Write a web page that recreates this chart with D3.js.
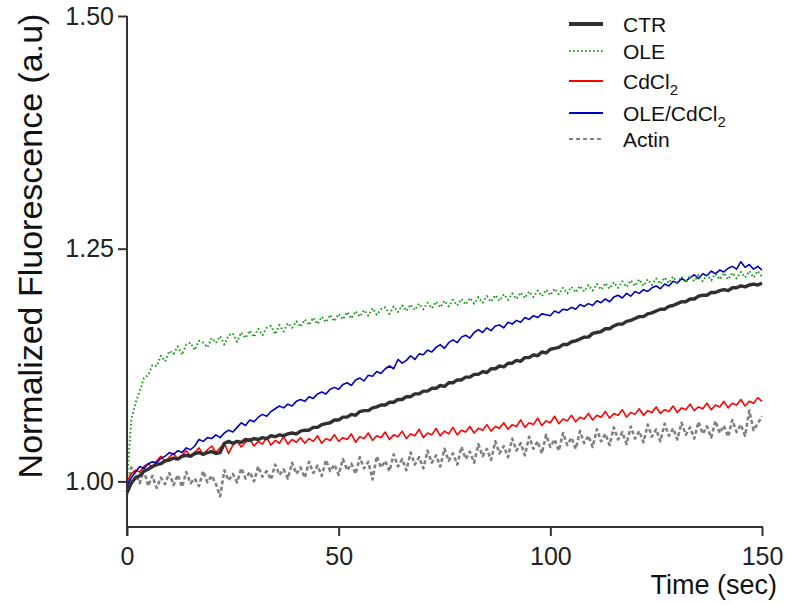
<!DOCTYPE html>
<html><head><meta charset="utf-8">
<script src="https://cdn.jsdelivr.net/npm/d3@7"></script>
<style>body{margin:0;background:#fff;} text{font-family:"Liberation Sans",Arial,sans-serif;}</style>
</head><body>
<svg id="chart" width="786" height="605"></svg>
<script>
// Sample times (seconds), one reading per second
const times = d3.range(0, 151, 1);
const xTicks = [0, 50, 100, 150];
const yTicks = [1.00, 1.25, 1.50];
const seriesNames = ["CTR", "OLE", "CdCl2", "OLE/CdCl2", "Actin"];

const ctr = [0.988,0.998,1.004,1.006,1.011,1.013,1.016,1.018,1.019,1.022,1.023,
1.025,1.024,1.027,1.028,1.027,1.030,1.031,1.029,1.031,1.032,
1.030,1.031,1.041,1.043,1.041,1.043,1.042,1.045,1.044,1.046,
1.045,1.047,1.046,1.049,1.048,1.050,1.049,1.051,1.052,1.051,
1.054,1.055,1.055,1.058,1.058,1.061,1.062,1.063,1.066,1.066,
1.069,1.069,1.072,1.071,1.075,1.076,1.076,1.079,1.080,1.082,
1.082,1.085,1.085,1.088,1.088,1.091,1.091,1.094,1.094,1.097,
1.097,1.100,1.100,1.103,1.102,1.106,1.106,1.109,1.109,1.112,
1.112,1.115,1.115,1.118,1.117,1.121,1.121,1.124,1.123,1.127,
1.127,1.130,1.129,1.133,1.133,1.136,1.135,1.139,1.138,1.142,
1.143,1.144,1.147,1.147,1.150,1.151,1.153,1.155,1.155,1.159,
1.160,1.161,1.164,1.164,1.167,1.169,1.169,1.172,1.173,1.175,
1.177,1.177,1.180,1.181,1.183,1.185,1.185,1.188,1.189,1.191,
1.193,1.193,1.196,1.196,1.199,1.200,1.200,1.203,1.203,1.205,
1.206,1.205,1.208,1.208,1.210,1.209,1.211,1.212,1.211,1.213];

const ole = [1.000,1.066,1.084,1.097,1.111,1.114,1.125,1.124,1.135,1.129,1.140,
1.137,1.145,1.136,1.147,1.149,1.141,1.151,1.149,1.144,1.154,
1.149,1.156,1.147,1.157,1.159,1.150,1.160,1.154,1.162,1.155,
1.164,1.157,1.165,1.167,1.158,1.168,1.161,1.170,1.165,1.172,
1.166,1.174,1.168,1.176,1.169,1.177,1.171,1.179,1.172,1.180,
1.174,1.182,1.175,1.183,1.177,1.184,1.178,1.186,1.179,1.185,
1.187,1.180,1.188,1.182,1.189,1.183,1.190,1.184,1.191,1.185,
1.192,1.186,1.193,1.187,1.194,1.188,1.195,1.189,1.196,1.190,
1.197,1.191,1.198,1.192,1.199,1.193,1.200,1.194,1.201,1.195,
1.202,1.196,1.203,1.197,1.204,1.198,1.205,1.199,1.206,1.200,
1.207,1.201,1.208,1.202,1.209,1.203,1.210,1.204,1.211,1.205,
1.212,1.206,1.213,1.207,1.214,1.208,1.215,1.209,1.216,1.210,
1.217,1.210,1.217,1.211,1.218,1.212,1.219,1.213,1.220,1.214,
1.220,1.214,1.221,1.215,1.222,1.215,1.222,1.216,1.223,1.217,
1.224,1.217,1.224,1.218,1.225,1.219,1.226,1.219,1.226,1.220];

const cdcl2 = [1.000,1.008,1.012,1.010,1.016,1.019,1.015,1.022,1.027,1.021,1.026,
1.030,1.024,1.028,1.033,1.027,1.031,1.036,1.029,1.034,1.038,
1.031,1.036,1.041,1.030,1.039,1.043,1.037,1.042,1.046,1.038,
1.043,1.040,1.047,1.039,1.044,1.041,1.048,1.040,1.045,1.042,
1.047,1.041,1.046,1.043,1.049,1.041,1.046,1.044,1.050,1.043,
1.047,1.045,1.051,1.042,1.048,1.046,1.052,1.044,1.049,1.047,
1.053,1.045,1.050,1.048,1.054,1.046,1.051,1.049,1.056,1.047,
1.052,1.050,1.057,1.049,1.054,1.051,1.058,1.050,1.055,1.053,
1.059,1.052,1.057,1.055,1.061,1.054,1.059,1.057,1.063,1.056,
1.061,1.059,1.066,1.058,1.063,1.061,1.068,1.060,1.065,1.063,
1.070,1.062,1.067,1.065,1.071,1.064,1.069,1.067,1.073,1.066,
1.071,1.069,1.075,1.068,1.073,1.071,1.077,1.069,1.074,1.072,
1.078,1.071,1.076,1.074,1.080,1.073,1.077,1.075,1.081,1.074,
1.079,1.077,1.083,1.076,1.080,1.078,1.084,1.077,1.082,1.080,
1.086,1.079,1.084,1.082,1.088,1.081,1.086,1.084,1.090,1.086];

const oleCdcl2 = [0.995,1.004,1.010,1.016,1.014,1.019,1.021,1.020,1.025,1.027,1.031,
1.029,1.033,1.031,1.036,1.034,1.038,1.045,1.043,1.047,1.046,
1.050,1.047,1.052,1.055,1.053,1.058,1.063,1.060,1.066,1.064,
1.069,1.072,1.070,1.075,1.078,1.081,1.079,1.083,1.081,1.086,
1.088,1.086,1.091,1.089,1.094,1.096,1.094,1.099,1.101,1.099,
1.104,1.106,1.103,1.109,1.111,1.108,1.114,1.113,1.118,1.116,
1.121,1.124,1.121,1.131,1.127,1.130,1.135,1.131,1.137,1.136,
1.141,1.139,1.144,1.147,1.143,1.149,1.152,1.149,1.155,1.157,
1.154,1.160,1.163,1.160,1.165,1.162,1.167,1.168,1.165,1.171,
1.169,1.173,1.171,1.176,1.174,1.178,1.176,1.180,1.179,1.178,
1.183,1.181,1.185,1.184,1.187,1.185,1.190,1.188,1.191,1.189,
1.194,1.192,1.196,1.193,1.198,1.200,1.197,1.202,1.199,1.204,
1.202,1.206,1.204,1.208,1.210,1.207,1.212,1.210,1.215,1.213,
1.218,1.215,1.219,1.222,1.218,1.223,1.221,1.226,1.223,1.227,
1.225,1.229,1.231,1.228,1.236,1.230,1.233,1.228,1.231,1.227];

const actin = [0.985,1.015,1.008,0.998,1.012,0.995,1.006,0.993,1.004,0.997,1.009,
0.996,1.007,0.994,1.010,0.998,1.003,0.995,1.011,0.999,1.006,
0.997,0.984,1.012,1.001,1.008,0.999,1.014,1.003,1.010,1.000,
1.016,1.005,1.011,1.002,1.018,1.007,1.013,1.003,1.020,1.008,
1.015,1.004,1.021,1.009,1.017,1.006,1.023,1.011,1.018,1.007,
1.024,1.012,1.019,1.008,1.026,1.014,1.021,1.002,1.027,1.015,
1.022,1.011,1.029,1.016,1.024,1.012,1.031,1.018,1.026,1.014,
1.033,1.020,1.028,1.016,1.035,1.022,1.030,1.018,1.037,1.024,
1.032,1.020,1.040,1.027,1.035,1.023,1.043,1.030,1.038,1.026,
1.046,1.033,1.041,1.028,1.048,1.035,1.043,1.030,1.050,1.037,
1.045,1.033,1.052,1.039,1.047,1.035,1.054,1.041,1.049,1.037,
1.056,1.043,1.051,1.039,1.058,1.045,1.053,1.040,1.059,1.046,
1.054,1.042,1.061,1.048,1.056,1.043,1.062,1.049,1.057,1.045,
1.063,1.050,1.058,1.046,1.064,1.051,1.059,1.047,1.065,1.052,
1.060,1.048,1.066,1.053,1.061,1.049,1.076,1.055,1.062,1.070];

const seriesValues = [ctr, ole, cdcl2, oleCdcl2, actin];
const styles = [
  {color:"#303030", width:3.4, dash:null},
  {color:"#1e9a1e", width:2, dash:"1.6,2.4"},
  {color:"#ff0000", width:1.6, dash:null},
  {color:"#0000c0", width:1.6, dash:null},
  {color:"#808080", width:2.6, dash:"4,2.5"}
];

const svg = d3.select("#chart");
const mLeft = 127, mRight = 762, mTop = 16, mBottom = 527;
const x = d3.scaleLinear().domain([0, 150]).range([mLeft, mRight]);
const y = d3.scaleLinear().domain([0.951, 1.50]).range([mBottom, mTop]);

// series
const line = d3.line().x(d => x(d[0])).y(d => y(d[1]));
// draw order: actin, cdcl2, oleCdcl2, ole, ctr on top
[4, 2, 3, 1, 0].forEach(i => {
  const pts = times.map((t, k) => [t, seriesValues[i][k]]);
  svg.append("path").attr("d", line(pts)).attr("fill", "none")
    .attr("stroke", styles[i].color).attr("stroke-width", styles[i].width)
    .attr("stroke-dasharray", styles[i].dash).attr("stroke-linejoin", "round");
});

// axes
const axisColor = "#333";
const yAxis = svg.append("g").attr("transform", `translate(${mLeft},0)`)
  .call(d3.axisLeft(y).tickValues(yTicks).tickFormat(d3.format(".2f")).tickSize(9).tickSizeOuter(0));
yAxis.select(".domain").remove();
svg.append("line").attr("x1", mLeft).attr("x2", mLeft).attr("y1", mTop).attr("y2", mBottom + 9)
  .attr("stroke", axisColor).attr("stroke-width", 2);
const xAxis = svg.append("g").attr("transform", `translate(0,${mBottom})`)
  .call(d3.axisBottom(x).tickValues(xTicks).tickSize(9).tickSizeOuter(0));
xAxis.select(".domain").remove();
svg.append("line").attr("x1", mLeft).attr("x2", mRight + 1).attr("y1", mBottom).attr("y2", mBottom)
  .attr("stroke", axisColor).attr("stroke-width", 2);
[yAxis, xAxis].forEach(g => {
  g.selectAll(".tick line").attr("stroke", axisColor).attr("stroke-width", 2);
  g.selectAll(".tick text").attr("fill", "#222").style("font-family", "Liberation Sans, Arial, sans-serif").style("font-size", "25px");
});
yAxis.selectAll(".tick text").attr("x", -13);
xAxis.selectAll(".tick text").attr("y", 20);

// axis titles
svg.append("text").attr("transform", "translate(42,246) rotate(-90)")
  .attr("text-anchor", "middle").attr("fill", "#111").style("font-size", "34px")
  .text("Normalized Fluorescence (a.u)");
svg.append("text").attr("x", 777).attr("y", 594).attr("text-anchor", "end")
  .attr("fill", "#111").style("font-size", "27px").text("Time (sec)");

// legend
const legendY = [24, 51, 81, 113, 139];
seriesNames.forEach((name, i) => {
  const g = svg.append("g").attr("transform", `translate(569,${legendY[i]})`);
  g.append("line").attr("x1", 0).attr("x2", 34).attr("y1", 0).attr("y2", 0)
    .attr("stroke", styles[i].color).attr("stroke-width", i === 0 ? 4 : 2)
    .attr("stroke-dasharray", i === 4 ? "4,3" : styles[i].dash);
  const t = g.append("text").attr("x", 54).attr("y", 8).attr("fill", "#111").style("font-size", "21px");
  const m = name.match(/^(.*CdCl)2$/);
  if (m) {
    t.append("tspan").text(m[1]);
    t.append("tspan").attr("dy", 6).style("font-size", "15px").text("2");
  } else {
    t.text(name);
  }
});
</script>
</body></html>
